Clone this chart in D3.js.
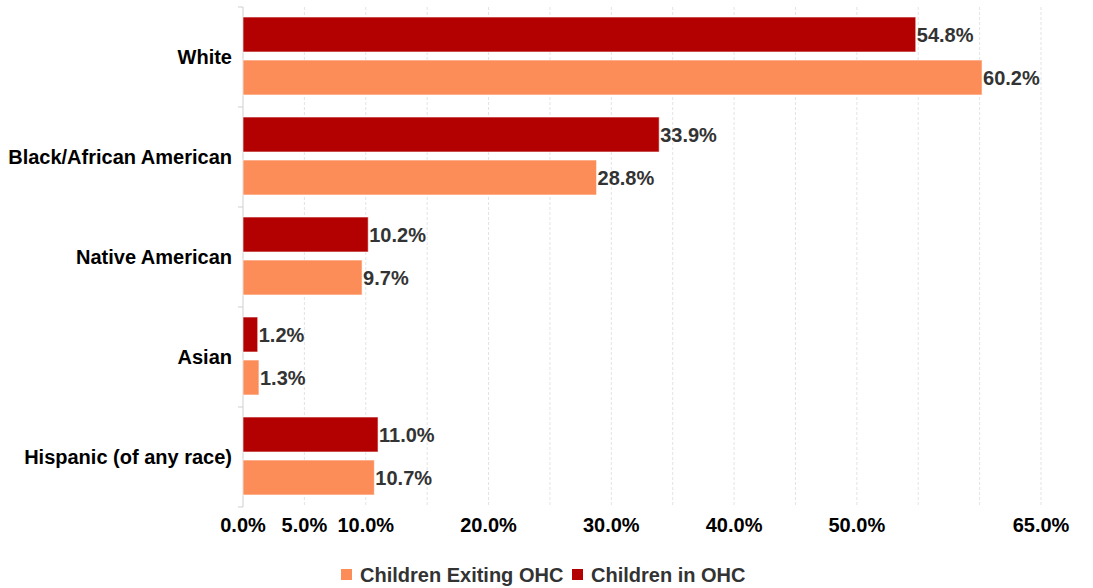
<!DOCTYPE html>
<html>
<head>
<meta charset="utf-8">
<script src="https://cdn.jsdelivr.net/npm/d3@7"></script>
<style>
  body { margin: 0; background: #fff; }
  text { font-family: "Liberation Sans", Arial, sans-serif; font-weight: bold; }
</style>
</head>
<body>
<svg id="chart" width="1093" height="588"></svg>
<script>
// data
var categories = ["White", "Black/African American", "Native American", "Asian", "Hispanic (of any race)"];
var inOHC = [54.8, 33.9, 10.2, 1.2, 11.0];
var exitingOHC = [60.2, 28.8, 9.7, 1.3, 10.7];
var tickLabels = [0, 5, 10, 20, 30, 40, 50, 65];
var gridValues = d3.range(0, 66, 5);
var seriesNames = ["Children Exiting OHC", "Children in OHC"];
var seriesColors = ["#fc8d59", "#b30000"];

var svg = d3.select("#chart");

var x = d3.scaleLinear().domain([0, 65]).range([243, 1041]);
var y = d3.scaleBand().domain(categories).range([7, 507]);

// gridlines
svg.append("g").selectAll("line")
    .data(gridValues.filter(function (d) { return d > 0; }))
    .enter().append("line")
    .attr("x1", function (d) { return x(d); })
    .attr("x2", function (d) { return x(d); })
    .attr("y1", 7).attr("y2", 507)
    .attr("stroke", "#e3e3e3")
    .attr("stroke-dasharray", "3,2");

// y axis line + ticks at band edges
svg.append("line")
    .attr("x1", 243).attr("x2", 243).attr("y1", 7).attr("y2", 507)
    .attr("stroke", "#cfcfcf");
svg.append("g").selectAll("line")
    .data(d3.range(categories.length + 1))
    .enter().append("line")
    .attr("x1", 238).attr("x2", 243)
    .attr("y1", function (i) { return 7 + i * y.bandwidth(); })
    .attr("y2", function (i) { return 7 + i * y.bandwidth(); })
    .attr("stroke", "#cfcfcf");

// category labels
svg.append("g").selectAll("text")
    .data(categories)
    .enter().append("text")
    .attr("x", 232)
    .attr("y", function (d) { return y(d) + y.bandwidth() / 2; })
    .attr("dy", "0.35em")
    .attr("text-anchor", "end")
    .attr("font-size", 20)
    .attr("fill", "#000")
    .text(function (d) { return d; });

// bars
var rows = categories.map(function (c, i) {
    return { cat: c, vals: [
        { s: 1, v: inOHC[i], off: 10 },
        { s: 0, v: exitingOHC[i], off: 53 }
    ] };
});

var groups = svg.append("g").selectAll("g")
    .data(rows)
    .enter().append("g")
    .attr("transform", function (d) { return "translate(0," + y(d.cat) + ")"; });

groups.selectAll("rect")
    .data(function (d) { return d.vals; })
    .enter().append("rect")
    .attr("x", x(0))
    .attr("y", function (d) { return d.off; })
    .attr("width", function (d) { return x(d.v) - x(0); })
    .attr("height", 35)
    .attr("fill", function (d) { return seriesColors[d.s]; })
    .attr("stroke", "#ffffff")
    .attr("stroke-opacity", 0.6)
    .attr("stroke-width", 1);

groups.selectAll("text")
    .data(function (d) { return d.vals; })
    .enter().append("text")
    .attr("x", function (d) { return x(d.v) + 1; })
    .attr("y", function (d) { return d.off + 17.5; })
    .attr("dy", "0.35em")
    .attr("font-size", 20)
    .attr("fill", "#333")
    .text(function (d) { return d.v.toFixed(1) + "%"; });

// x tick labels
svg.append("g").selectAll("text")
    .data(tickLabels)
    .enter().append("text")
    .attr("x", function (d) { return x(d); })
    .attr("y", 532)
    .attr("text-anchor", "middle")
    .attr("font-size", 20)
    .attr("fill", "#000")
    .text(function (d) { return d.toFixed(1) + "%"; });

// legend
var legendPos = [341, 572];
var legend = svg.append("g").selectAll("g")
    .data(seriesNames)
    .enter().append("g")
    .attr("transform", function (d, i) { return "translate(" + legendPos[i] + ",569)"; });
legend.append("rect")
    .attr("width", 11).attr("height", 11)
    .attr("fill", function (d, i) { return seriesColors[i]; });
legend.append("text")
    .attr("x", 19).attr("y", 5.5)
    .attr("dy", "0.35em")
    .attr("font-size", 20)
    .attr("fill", "#333")
    .text(function (d) { return d; });
</script>
</body>
</html>
